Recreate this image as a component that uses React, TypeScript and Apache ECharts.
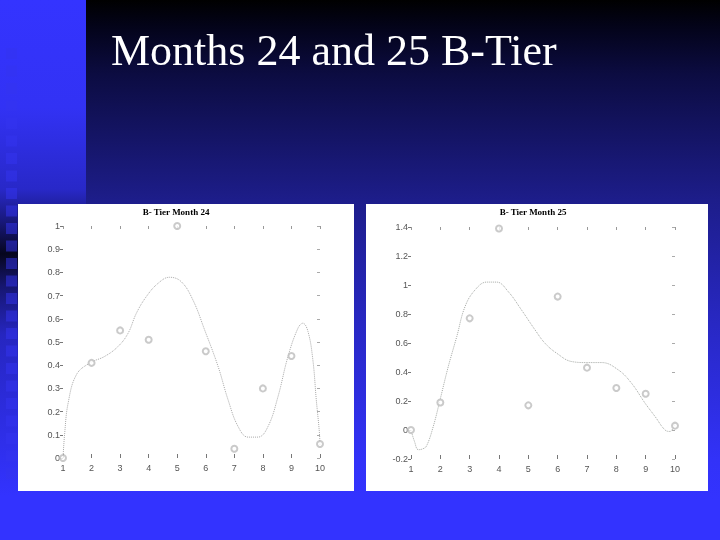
import React, { useEffect, useRef } from "react";
import * as echarts from "echarts";

const titleText = "Months 24 and 25 B-Tier";
const subtitle24 = "B- Tier Month 24";
const subtitle25 = "B- Tier Month 25";

const months = [1, 2, 3, 4, 5, 6, 7, 8, 9, 10];
const month24Values = [0.0, 0.41, 0.55, 0.51, 1.0, 0.46, 0.04, 0.3, 0.44, 0.06];
const month25Values = [0.0, 0.19, 0.77, 1.39, 0.17, 0.92, 0.43, 0.29, 0.25, 0.03];

const fit24X = [1, 1.06, 1.18, 1.47, 1.93, 2.46, 2.93, 3.28, 3.57, 3.92, 4.33, 4.73, 5.14, 5.55, 5.96, 6.43, 6.78, 7.13, 7.48, 7.83, 8.18, 8.53, 8.88, 9.23, 9.4, 9.58, 9.75, 9.87, 9.98, 10];
const fit24Y = [0, 0.108, 0.237, 0.359, 0.409, 0.438, 0.481, 0.538, 0.624, 0.696, 0.753, 0.779, 0.76, 0.681, 0.552, 0.395, 0.251, 0.136, 0.09, 0.09, 0.136, 0.265, 0.438, 0.56, 0.581, 0.545, 0.423, 0.251, 0.108, 0.05];

const fit25X = [1, 1.12, 1.25, 1.4, 1.53, 1.76, 1.99, 2.27, 2.56, 2.84, 3.18, 3.58, 3.92, 4.32, 4.77, 5.23, 5.57, 5.97, 6.48, 7.0, 7.5, 8.07, 8.52, 8.98, 9.32, 9.66, 9.83, 10];
const fit25Y = [0, -0.08, -0.136, -0.13, -0.11, 0.025, 0.208, 0.437, 0.644, 0.85, 0.965, 1.02, 1.02, 0.953, 0.827, 0.69, 0.598, 0.529, 0.472, 0.465, 0.465, 0.414, 0.322, 0.185, 0.093, 0.0, -0.01, 0.05];

const labelStyle = { fontFamily: "Liberation Sans, Arial, sans-serif", fontSize: 9, color: "#555" };
const tickStyle = { color: "#777", width: 1 };

function bottomX(gridIndex: number) {
  return {
    type: "value", gridIndex, min: 1, max: 10, interval: 1, position: "bottom",
    axisLine: { show: false, onZero: false }, splitLine: { show: false },
    axisTick: { show: true, inside: true, length: 4, lineStyle: tickStyle },
    axisLabel: { ...labelStyle, margin: 5 },
  };
}
function topX(gridIndex: number) {
  return {
    type: "value", gridIndex, min: 1, max: 10, interval: 1, position: "top",
    axisLine: { show: false, onZero: false }, splitLine: { show: false },
    axisTick: { show: true, inside: true, length: 3, lineStyle: { color: "#999", width: 1 } },
    axisLabel: { show: false },
  };
}
function leftY(gridIndex: number, min: number, max: number, interval: number) {
  return {
    type: "value", gridIndex, min, max, interval, position: "left",
    axisLine: { show: false, onZero: false }, splitLine: { show: false },
    axisTick: { show: true, length: 3, lineStyle: tickStyle },
    axisLabel: { ...labelStyle, margin: 3 },
  };
}
function rightY(gridIndex: number, min: number, max: number, interval: number) {
  return {
    type: "value", gridIndex, min, max, interval, position: "right",
    axisLine: { show: false, onZero: false }, splitLine: { show: false },
    axisTick: { show: true, inside: true, length: 3, lineStyle: { color: "#aaa", width: 1 } },
    axisLabel: { show: false },
  };
}

export default function App() {
  const ref = useRef<HTMLDivElement>(null);
  useEffect(() => {
    const chart = echarts.init(ref.current!, null, { renderer: "svg" });

    const squares: any[] = [];
    for (let y = 48; y < 470; y += 17.5) {
      squares.push({ type: "rect", z: -8, shape: { x: 6, y, width: 11, height: 11 }, style: { fill: "#3434f0", opacity: 0.5 } });
    }

    const option: any = {
      animation: false,
      graphic: [
        { type: "rect", z: -10, shape: { x: 0, y: 0, width: 720, height: 540 }, style: { fill: "#3333ff" } },
        {
          type: "rect", z: -10, shape: { x: 86, y: 0, width: 634, height: 500 },
          style: {
            fill: {
              type: "linear", x: 0, y: 0, x2: 0, y2: 1,
              colorStops: [
                { offset: 0, color: "#000000" },
                { offset: 0.05, color: "#030318" },
                { offset: 0.15, color: "#0c0c42" },
                { offset: 0.4, color: "#1d1d8a" },
                { offset: 0.65, color: "#2828c4" },
                { offset: 0.92, color: "#3232f8" },
                { offset: 1, color: "#3333ff" },
              ],
            },
          },
        },
        {
          type: "rect", z: -10, shape: { x: 0, y: 0, width: 86, height: 540 },
          style: {
            fill: {
              type: "linear", x: 0, y: 0, x2: 0, y2: 1,
              colorStops: [
                { offset: 0, color: "#3434ff" },
                { offset: 0.2, color: "#3232f4" },
                { offset: 0.35, color: "#2828c8" },
                { offset: 0.41, color: "#18187a" },
                { offset: 0.47, color: "#06061e" },
                { offset: 0.53, color: "#161670" },
                { offset: 0.62, color: "#2626c0" },
                { offset: 0.8, color: "#2e2ee6" },
                { offset: 0.92, color: "#3333ff" },
                { offset: 1, color: "#3333ff" },
              ],
            },
          },
        },
        ...squares,
        { type: "rect", z: -5, shape: { x: 18, y: 204, width: 336, height: 287 }, style: { fill: "#ffffff" } },
        { type: "rect", z: -5, shape: { x: 366, y: 204, width: 342, height: 287 }, style: { fill: "#ffffff" } },
        {
          type: "text", z: 10, x: 111, y: 50,
          style: { text: titleText, fill: "#ffffff", font: "44px 'Liberation Serif', 'Times New Roman', serif", verticalAlign: "middle", align: "left" },
        },
        {
          type: "text", z: 10, x: 176, y: 212,
          style: { text: subtitle24, fill: "#000", font: "bold 9px 'Liberation Serif', 'Times New Roman', serif", verticalAlign: "middle", align: "center" },
        },
        {
          type: "text", z: 10, x: 533, y: 212,
          style: { text: subtitle25, fill: "#000", font: "bold 9px 'Liberation Serif', 'Times New Roman', serif", verticalAlign: "middle", align: "center" },
        },
      ],
      grid: [
        { left: 63, top: 226, width: 257, height: 232 },
        { left: 411, top: 227, width: 264, height: 232 },
      ],
      xAxis: [bottomX(0), topX(0), bottomX(1), topX(1)],
      yAxis: [leftY(0, 0, 1, 0.1), rightY(0, 0, 1, 0.1), leftY(1, -0.2, 1.4, 0.2), rightY(1, -0.2, 1.4, 0.2)],
      series: [
        {
          type: "line", xAxisIndex: 0, yAxisIndex: 0, smooth: 0.4, showSymbol: false, silent: true,
          lineStyle: { color: "#a8a8a8", width: 1, type: "dotted" },
          data: fit24X.map((x, i) => [x, fit24Y[i]]),
        },
        {
          type: "scatter", xAxisIndex: 0, yAxisIndex: 0, symbol: "emptyCircle", symbolSize: 6, z: 5,
          itemStyle: { color: "#bdbdbd", borderWidth: 0.8 },
          data: months.map((m, i) => [m, month24Values[i]]),
        },
        {
          type: "line", xAxisIndex: 2, yAxisIndex: 2, smooth: 0.4, showSymbol: false, silent: true,
          lineStyle: { color: "#a4a8a4", width: 1, type: "dotted" },
          data: fit25X.map((x, i) => [x, fit25Y[i]]),
        },
        {
          type: "scatter", xAxisIndex: 2, yAxisIndex: 2, symbol: "emptyCircle", symbolSize: 6, z: 5,
          itemStyle: { color: "#bdbdbd", borderWidth: 0.8 },
          data: months.map((m, i) => [m, month25Values[i]]),
        },
      ],
    };
    chart.setOption(option);
    return () => chart.dispose();
  }, []);
  return <div ref={ref} style={{ position: "fixed", left: 0, top: 0, width: 720, height: 540 }} />;
}
